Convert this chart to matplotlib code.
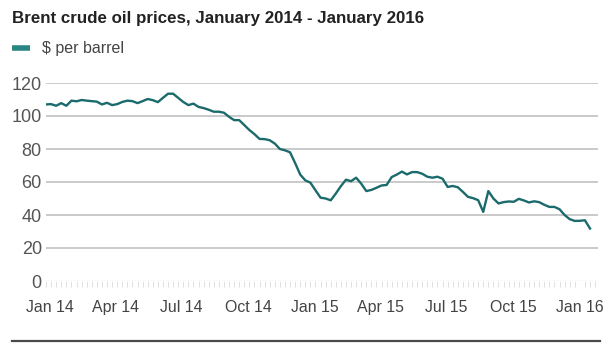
import pandas as pd
import matplotlib.pyplot as plt
import matplotlib.dates as mdates
from matplotlib.lines import Line2D

plt.rcParams['font.family'] = ['Liberation Sans', 'DejaVu Sans']

# weekly Brent prices, $ per barrel
start_date = "2013-12-27"
prices = [
    107.0, 107.2, 106.2, 107.8, 106.2, 109.3, 108.9, 109.7, 109.3, 109.0,
    108.7, 107.0, 108.0, 106.6, 107.2, 108.5, 109.3, 109.0, 107.8, 109.0,
    110.3, 109.6, 108.4, 111.0, 113.5, 113.5, 111.0, 108.5, 106.6, 107.5,
    105.5, 104.8, 103.8, 102.6, 102.6, 102.0, 99.5, 97.5, 97.5, 94.5,
    91.5, 89.0, 86.1, 86.0, 85.3, 83.3, 80.0, 79.2, 78.0, 71.5,
    64.5, 61.0, 59.6, 55.0, 50.5, 50.0, 48.9, 53.0, 57.5, 61.4,
    60.5, 62.6, 59.0, 54.5, 55.2, 56.5, 57.9, 58.2, 63.0, 64.5,
    66.3, 64.6, 66.0, 66.0, 65.0, 63.2, 62.6, 63.2, 62.0, 57.0,
    57.6, 56.8, 54.0, 51.0, 50.2, 49.0, 41.9, 54.5, 50.0, 47.0,
    47.8, 48.2, 48.0, 49.8, 48.8, 47.6, 48.3, 47.8, 46.2, 44.9,
    44.9, 43.5, 40.0, 37.5, 36.4, 36.5, 36.8, 31.8,
]
dates = pd.date_range(start_date, periods=len(prices), freq="7D")

yticks = [0, 20, 40, 60, 80, 100, 120]
xtick_dates = pd.to_datetime(["2014-01-01", "2014-04-01", "2014-07-01", "2014-10-01",
                              "2015-01-01", "2015-04-01", "2015-07-01", "2015-10-01",
                              "2016-01-01"])
xtick_labels = ["Jan 14", "Apr 14", "Jul 14", "Oct 14", "Jan 15",
                "Apr 15", "Jul 15", "Oct 15", "Jan 16"]

line_col = "#1b6a6c"

fig = plt.figure(figsize=(6.1, 3.46), dpi=100)
fig.patch.set_facecolor("white")
ax = fig.add_axes([46 / 610, 65 / 346, 552 / 610, 198 / 346])

for y in yticks[1:]:
    ax.axhline(y, color="#c6c6c6", lw=1.3, zorder=1)
ax.axhline(0, color="#e8e8e8", lw=1.0, zorder=1)

ax.plot(dates, prices, color=line_col, lw=1.7, zorder=3, solid_joinstyle="round")

ax.set_ylim(0, 120)
ax.set_xlim(dates[0], dates[-1] + pd.Timedelta(days=11))
ax.set_yticks(yticks)
ax.set_xticks(xtick_dates)
ax.set_xticklabels(xtick_labels)
ax.xaxis.set_minor_locator(mdates.WeekdayLocator(byweekday=mdates.FR))

ax.tick_params(axis="y", length=0, pad=3, labelsize=13, labelcolor="#555555")
ax.tick_params(axis="x", which="major", length=0, pad=14, labelsize=11.4, labelcolor="#444444")
ax.tick_params(axis="x", which="minor", length=4, width=0.6, color="#dcdcdc", direction="out")

for spine in ax.spines.values():
    spine.set_visible(False)

fig.text(12 / 610, 1 - 18 / 346, "Brent crude oil prices, January 2014 - January 2016",
         fontsize=12.2, fontweight="bold", color="#222222", va="center", ha="left")

handle = Line2D([], [], color="#2b8581", lw=4, solid_capstyle="butt")
fig.legend(handles=[handle], labels=[r"\$ per barrel"], loc="center left",
           bbox_to_anchor=(12 / 610, 1 - 49 / 346), frameon=False,
           borderaxespad=0, borderpad=0,
           handlelength=1.1, handletextpad=0.75, fontsize=11.5, labelcolor="#444444")

fig.add_artist(Line2D([12 / 610, 600 / 610], [1 - 341 / 346] * 2,
                      color="#4a4a4a", lw=1.6))

plt.savefig("out.png", dpi=100, facecolor=fig.get_facecolor())
